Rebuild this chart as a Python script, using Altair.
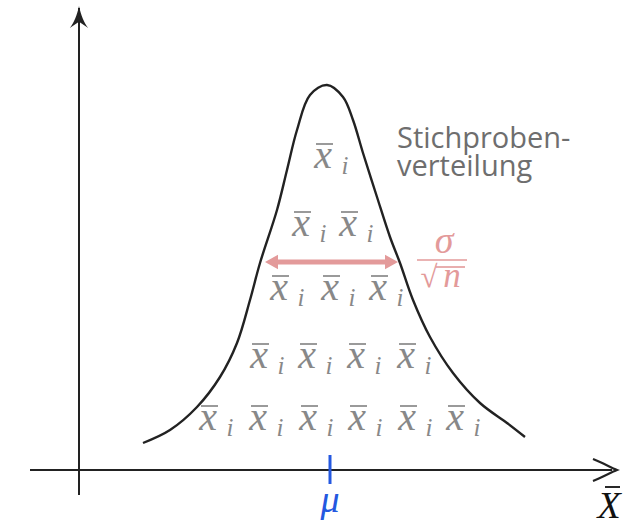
import altair as alt
import pandas as pd

# Diagram coordinates: origin where the two axes cross
X_DOMAIN = [-79, 559]
Y_DOMAIN = [-54, 470]

# Sampling distribution curve (points along the bell)
curve_x = [64, 91, 118, 141, 158, 171, 181, 198, 208, 218, 231, 248,
           264, 274, 284, 298, 311, 321, 334, 351, 374, 401, 428, 446]
curve_y = [27, 40, 63, 93, 127, 170, 207, 260, 300, 340, 375, 385,
           373, 350, 317, 273, 233, 207, 170, 133, 97, 67, 47, 33]

# Sample means stacked under the curve, row by row
token_x = [244,
           222, 269,
           200, 251, 299,
           180, 228, 277, 327,
           129, 179, 229, 278, 328, 376]
token_y = [302,
           234, 234,
           170, 170, 170,
           102, 102, 102, 102,
           40, 40, 40, 40, 40, 40]

# Axes extents
axis_v = {"x": 0, "y": -25, "y2": 462}
axis_h = {"y": 0, "x": -49, "x2": 533}

# Population mean on the horizontal axis
mu_x = 251

# Standard error arrow
se_from, se_to, se_y = 186, 319, 208

# Label texts
label_curve = ["Stichproben-", "verteilung"]
label_mean = "x"
label_sub = "i"

GRAY = "#888888"
PINK = "#e39a9a"
BLUE = "#2458e0"
INK = "#222222"
SERIF = "Liberation Serif"

xs = alt.Scale(domain=X_DOMAIN, nice=False, zero=False)
ys = alt.Scale(domain=Y_DOMAIN, nice=False, zero=False)


def X(field="x"):
    return alt.X(f"{field}:Q", scale=xs, axis=None)


def Y(field="y"):
    return alt.Y(f"{field}:Q", scale=ys, axis=None)


# axes
axes_df = pd.DataFrame({
    "x": [axis_v["x"], axis_h["x"]],
    "x2": [axis_v["x"], axis_h["x2"]],
    "y": [axis_v["y"], axis_h["y"]],
    "y2": [axis_v["y2"], axis_h["y"]],
})
axes = alt.Chart(axes_df).mark_rule(color=INK, strokeWidth=2).encode(
    x=X(), x2="x2:Q", y=Y(), y2="y2:Q")

head_up = alt.Chart(pd.DataFrame({"x": [axis_v["x"]], "y": [axis_v["y2"] + 2]})).mark_point(
    shape="M0,0 C0.08,0.4 0.25,0.8 0.42,1 L0,0.72 L-0.42,1 C-0.25,0.8 -0.08,0.4 0,0 Z",
    size=1936, filled=True, color=INK, opacity=1,
).encode(x=X(), y=Y())

head_right = alt.Chart(pd.DataFrame({"x": [axis_h["x2"] + 5], "y": [axis_h["y"]]})).mark_point(
    shape="M-1,-0.46 C-0.6,-0.3 -0.25,-0.1 0,0 C-0.25,0.1 -0.6,0.3 -1,0.46",
    size=2304, filled=False, color=INK, strokeWidth=2.2, opacity=1,
).encode(x=X(), y=Y())

# bell curve
curve = alt.Chart(pd.DataFrame({"x": curve_x, "y": curve_y})).mark_line(
    color=INK, strokeWidth=2.4, interpolate="catmull-rom"
).encode(x=X(), y=Y(), order="x:Q")

# stacked sample means: italic x, bar above it, subscript i
tok_df = pd.DataFrame({"x": token_x, "y": token_y})
tokens = alt.Chart(tok_df).mark_text(
    text=label_mean, font=SERIF, fontStyle="italic", fontSize=40,
    color=GRAY, align="center", baseline="alphabetic"
).encode(x=X(), y=Y())
bars = alt.Chart(tok_df).transform_calculate(
    bx1="datum.x - 7", bx2="datum.x + 10", by="datum.y + 24"
).mark_rule(color=GRAY, strokeWidth=1.7).encode(
    x=X("bx1"), x2="bx2:Q", y=Y("by"))
subs = alt.Chart(tok_df).mark_text(
    text=label_sub, font=SERIF, fontStyle="italic", fontSize=25,
    color=GRAY, align="center", baseline="alphabetic", dx=22, dy=6
).encode(x=X(), y=Y())

# standard error arrow
se_line = alt.Chart(pd.DataFrame({"x": [se_from + 10], "x2": [se_to - 10], "y": [se_y]})).mark_rule(
    color=PINK, strokeWidth=5).encode(x=X(), x2="x2:Q", y=Y())
se_left = alt.Chart(pd.DataFrame({"x": [se_from], "y": [se_y]})).mark_point(
    shape="M0,0 L1,-0.55 L1,0.55 Z", size=676, filled=True, color=PINK, opacity=1
).encode(x=X(), y=Y())
se_right = alt.Chart(pd.DataFrame({"x": [se_to], "y": [se_y]})).mark_point(
    shape="M0,0 L-1,-0.55 L-1,0.55 Z", size=676, filled=True, color=PINK, opacity=1
).encode(x=X(), y=Y())

# sigma over root n
frac_txt = pd.DataFrame({
    "x": [365, 350, 373],
    "y": [217, 183, 183],
    "t": ["\u03c3", "\u221a", "n"],
    "style": ["italic", "normal", "italic"],
    "size": [38, 31, 35],
})
frac_text = alt.Chart(frac_txt).mark_text(
    font=SERIF, color=PINK, align="center", baseline="alphabetic"
).encode(x=X(), y=Y(), text="t:N",
         size=alt.Size("size:Q", scale=None, legend=None))
frac_text_i = frac_text.transform_filter("datum.style == 'italic'").mark_text(
    font=SERIF, fontStyle="italic", color=PINK, align="center", baseline="alphabetic")
frac_text_n = frac_text.transform_filter("datum.style == 'normal'")
frac_bars = alt.Chart(pd.DataFrame({
    "x": [338, 357], "x2": [388, 386], "y": [210, 203]
})).mark_rule(color=PINK, strokeWidth=1.6).encode(x=X(), x2="x2:Q", y=Y())

# curve caption
caption = alt.Chart(pd.DataFrame({"x": [318, 318], "y": [322, 294], "t": label_curve})).mark_text(
    font="Open Sans", fontSize=29, color="#6e6e6e", align="left", baseline="alphabetic"
).encode(x=X(), y=Y(), text="t:N")

# mu tick and labels on the horizontal axis
mu_tick = alt.Chart(pd.DataFrame({"x": [mu_x], "y": [15], "y2": [-14]})).mark_rule(
    color=BLUE, strokeWidth=3).encode(x=X(), y=Y(), y2="y2:Q")
mu_lab = alt.Chart(pd.DataFrame({"x": [mu_x], "y": [-42]})).mark_text(
    text="\u03bc", font=SERIF, fontStyle="italic", fontSize=38, color=BLUE,
    align="center", baseline="alphabetic").encode(x=X(), y=Y())
xbar_lab = alt.Chart(pd.DataFrame({"x": [530], "y": [-48]})).mark_text(
    text="X", font=SERIF, fontStyle="italic", fontSize=38, color="#111111",
    align="center", baseline="alphabetic").encode(x=X(), y=Y())
xbar_bar = alt.Chart(pd.DataFrame({"x": [526], "x2": [541], "y": [-17]})).mark_rule(
    color="#111111", strokeWidth=1.8).encode(x=X(), x2="x2:Q", y=Y())

chart = alt.layer(
    axes, head_up, head_right, curve, tokens, bars, subs,
    se_line, se_left, se_right, frac_bars, frac_text_i, frac_text_n,
    caption, mu_tick, mu_lab, xbar_lab, xbar_bar,
).properties(
    width=638, height=524, padding=0, autosize="none", background="white"
).configure_view(stroke=None)

chart.save("out.html", embed_options={"renderer": "svg", "actions": False})
